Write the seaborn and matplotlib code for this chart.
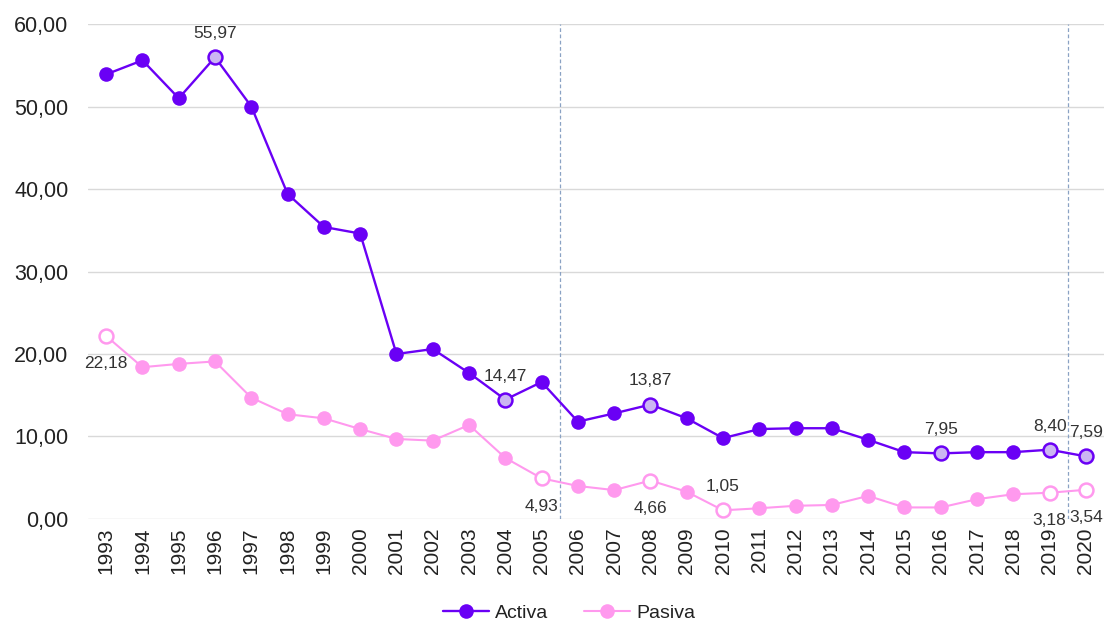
import matplotlib
matplotlib.use("Agg")
import matplotlib.pyplot as plt
from matplotlib.ticker import FuncFormatter, FixedLocator
import seaborn as sns
import pandas as pd

years = [str(y) for y in range(1993, 2021)]
activa = [53.9, 55.6, 51.0, 55.97, 50.0, 39.4, 35.4, 34.6, 20.0, 20.6,
          17.7, 14.47, 16.6, 11.8, 12.8, 13.87, 12.2, 9.8, 10.9, 11.0,
          11.0, 9.6, 8.1, 7.95, 8.1, 8.1, 8.40, 7.59]
pasiva = [22.18, 18.4, 18.8, 19.1, 14.7, 12.7, 12.2, 10.9, 9.7, 9.5,
          11.4, 7.4, 4.93, 4.0, 3.5, 4.66, 3.3, 1.05, 1.3, 1.6,
          1.7, 2.8, 1.4, 1.4, 2.4, 3.0, 3.18, 3.54]

# Labelled points: (year, position of the label relative to the marker)
activa_labels = [("1996", "above"), ("2004", "above"), ("2008", "above"),
                 ("2016", "above"), ("2019", "above"), ("2020", "above")]
pasiva_labels = [("1993", "below"), ("2005", "below"), ("2008", "below"),
                 ("2010", "above"), ("2019", "below"), ("2020", "below")]
split_years = [2005.5, 2019.5]

c_act = "#6a00f5"
c_act_hl = "#cbb6f2"
c_pas = "#ff99ee"
txt = "#222222"

sns.set_theme(style="white")
plt.rcParams["font.family"] = ["Liberation Sans", "DejaVu Sans"]

df = pd.DataFrame({"Año": years, "Activa": activa, "Pasiva": pasiva})
long = df.melt(id_vars="Año", var_name="Tasa", value_name="Valor")

fig = plt.figure(figsize=(11.09, 6.24), dpi=100)
ax = fig.add_axes([0.0794, 0.1683, 0.9161, 0.7932])

sns.lineplot(data=long, x="Año", y="Valor", hue="Tasa",
             palette={"Activa": c_act, "Pasiva": c_pas}, sort=False,
             marker="o", markersize=10.5, markeredgewidth=0,
             ax=ax, legend=False, zorder=3)
for line, lw in zip(ax.lines, [1.7, 1.5]):
    line.set_linewidth(lw)

idx = {y: i for i, y in enumerate(years)}

def mark(labels, values, face, edge):
    xs = [idx[y] for y, _ in labels]
    ys = [values[idx[y]] for y, _ in labels]
    ax.scatter(xs, ys, s=100, facecolor=face, edgecolor=edge,
               linewidth=1.8, zorder=4)
    for (y, pos), xv, yv in zip(labels, xs, ys):
        dy = 17 if pos == "above" else -20
        ax.annotate(f"{yv:.2f}".replace(".", ","), (xv, yv),
                    xytext=(0, dy), textcoords="offset points",
                    ha="center", va="center", fontsize=12.5, color="#333333")

mark(activa_labels, activa, c_act_hl, c_act)
mark(pasiva_labels, pasiva, "white", c_pas)

for sy in split_years:
    ax.axvline(sy - 1993, color="#8aa2c4", linestyle=(0, (3, 2)),
               linewidth=0.9, zorder=1)

ax.set_xlim(-0.5, len(years) - 0.5)
ax.set_ylim(0, 60)
ax.yaxis.set_major_locator(FixedLocator([0, 10, 20, 30, 40, 50, 60]))
ax.yaxis.set_major_formatter(FuncFormatter(lambda v, p: f"{v:.2f}".replace(".", ",")))
ax.grid(axis="y", color="#d9d9d9", linewidth=1.0, zorder=0)
ax.grid(axis="x", visible=False)
for s in ax.spines.values():
    s.set_visible(False)
ax.tick_params(axis="x", labelrotation=90, labelsize=15, colors=txt, length=0, pad=6)
ax.tick_params(axis="y", labelsize=15.5, colors=txt, length=0, pad=14)
ax.set_xlabel("")
ax.set_ylabel("")

handles = [plt.Line2D([], [], color=c_act, marker="o", markersize=10.5, lw=1.7,
                      markeredgewidth=0),
           plt.Line2D([], [], color=c_pas, marker="o", markersize=10.5, lw=1.5,
                      markeredgewidth=0)]
fig.legend(handles, ["Activa", "Pasiva"], loc="center", ncol=2,
           bbox_to_anchor=(0.513, 0.018), frameon=False, fontsize=14,
           handlelength=2.4, columnspacing=1.8, handletextpad=0.3,
           labelcolor=txt)

fig.savefig("out.png", dpi=100)
